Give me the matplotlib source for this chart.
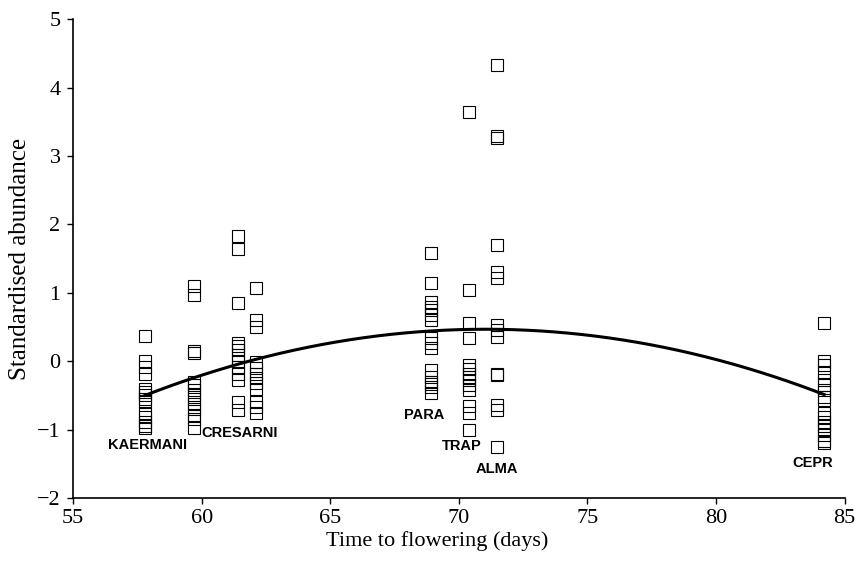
import numpy as np
import matplotlib
matplotlib.use("Agg")
import matplotlib.pyplot as plt

# ==================== DATA ====================
# site columns: time to flowering (days) and standardised abundances
kaermani_x = 57.8
kaermani_y = [0.37, 0.01, -0.09, -0.18, -0.40, -0.45, -0.50, -0.55, -0.60,
              -0.76, -0.82, -0.89, -0.94, -0.98]
col2_x = 59.7
col2_y = [1.10, 0.97, 0.15, 0.12, -0.30, -0.35, -0.42, -0.50, -0.55, -0.62,
          -0.70, -0.78, -0.85, -0.98]
cresarni_x = 61.4
cresarni_y = [1.83, 1.64, 0.85, 0.26, 0.22, 0.16, 0.09, 0.01, -0.09, -0.18,
              -0.28, -0.60, -0.72]
col4_x = 62.1
col4_y = [1.07, 0.60, 0.50, -0.01, -0.10, -0.18, -0.25, -0.32, -0.40,
          -0.60, -0.67, -0.76]
para_x = 68.9
para_y = [1.58, 1.14, 0.86, 0.80, 0.75, 0.67, 0.60, 0.34, 0.26, 0.19,
          -0.13, -0.23, -0.31, -0.34, -0.38, -0.47]
trap_x = 70.4
trap_y = [3.65, 1.04, 0.56, 0.34, -0.06, -0.12, -0.18, -0.23, -0.28, -0.35,
          -0.42, -0.65, -0.75, -1.00]
alma_x = 71.5
alma_y = [4.33, 3.30, 3.27, 1.70, 1.31, 1.21, 0.53, 0.45, 0.35, -0.18,
          -0.20, -0.64, -0.72, -1.25]
cepr_x = 84.2
cepr_y = [0.56, 0.01, -0.06, -0.16, -0.28, -0.35, -0.42, -0.53, -0.57,
          -0.75, -0.82, -0.89, -0.94, -1.01, -1.08, -1.16, -1.20]

columns = [
    (kaermani_x, kaermani_y), (col2_x, col2_y), (cresarni_x, cresarni_y),
    (col4_x, col4_y), (para_x, para_y), (trap_x, trap_y),
    (alma_x, alma_y), (cepr_x, cepr_y),
]

# fitted curve
curve_x = [57.8, 59.7, 62.1, 65.0, 68.0, 71.0, 74.0, 77.0, 80.0, 82.0, 84.2]
curve_y = [-0.50, -0.24, 0.02, 0.27, 0.42, 0.47, 0.42, 0.27, 0.02, -0.20, -0.48]

# site labels
label_names = ["KAERMANI", "CRESARNI", "PARA", "TRAP", "ALMA", "CEPR"]
label_x = [57.9, 61.47, 68.66, 70.12, 71.46, 83.76]
label_y = [-1.23, -1.05, -0.78, -1.24, -1.58, -1.49]

# ==================== PLOT ====================
plt.rcParams['font.family'] = ['Liberation Serif', 'DejaVu Serif']

fig = plt.figure(figsize=(8.55, 5.74), dpi=100)
ax = fig.add_axes([0.0854, 0.1324, 0.9026, 0.834])

for cx, cy in columns:
    ax.plot([cx] * len(cy), cy, linestyle='none', marker='s', markersize=9.2,
            markerfacecolor='none', markeredgecolor='black',
            markeredgewidth=0.8, zorder=2)

coef = np.polyfit(curve_x, curve_y, 2)
xs = np.linspace(curve_x[0], curve_x[-1], 200)
ax.plot(xs, np.polyval(coef, xs), color='black', linewidth=2.2, zorder=3)

for name, lx, ly in zip(label_names, label_x, label_y):
    ax.text(lx, ly, name, ha='center', va='center', fontsize=10.5,
            fontweight='bold', family=['Liberation Sans', 'DejaVu Sans'])

ax.set_xlim(55, 85)
ax.set_ylim(-2, 5)
ax.set_xticks(range(55, 86, 5))
ax.set_yticks(range(-2, 6))
ax.set_yticklabels([str(v).replace('-', '\u2212') for v in range(-2, 6)])

for side in ['top', 'right']:
    ax.spines[side].set_visible(False)
for side in ['left', 'bottom']:
    ax.spines[side].set_linewidth(1.2)
ax.tick_params(direction='out', length=4, width=1.0, labelsize=16)
ax.tick_params(axis='x', pad=4)
ax.tick_params(axis='y', pad=5)

ax.set_xlabel('Time to flowering (days)', fontsize=16, labelpad=2)
ax.xaxis.label.set_x(0.4715)
ax.set_ylabel('Standardised abundance', fontsize=18, labelpad=4)

plt.savefig('out.png', dpi=100)
